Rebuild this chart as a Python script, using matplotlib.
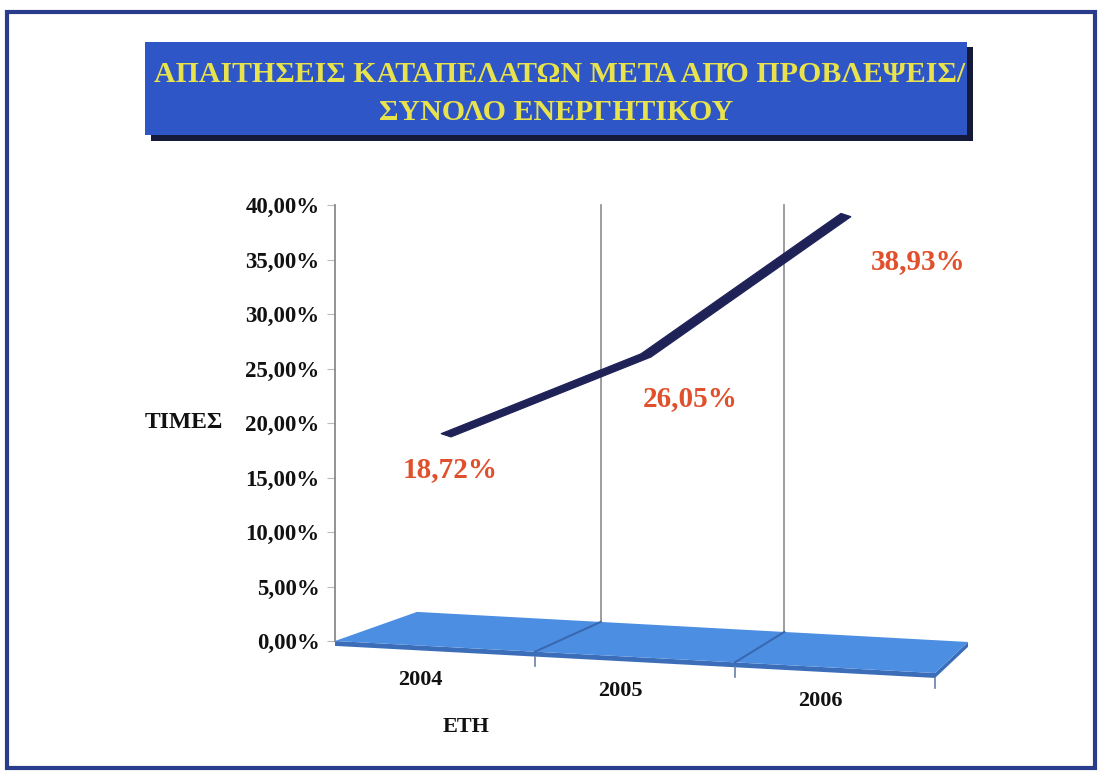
import numpy as np
import matplotlib
matplotlib.use("Agg")
import matplotlib.pyplot as plt
from matplotlib.patches import Polygon, Rectangle

# ---------------- data ----------------
years = ["2004", "2005", "2006"]
values = [18.72, 26.05, 38.93]
value_labels = ["18,72%", "26,05%", "38,93%"]
y_ticks = [0, 5, 10, 15, 20, 25, 30, 35, 40]
y_tick_labels = ["0,00%", "5,00%", "10,00%", "15,00%", "20,00%",
                 "25,00%", "30,00%", "35,00%", "40,00%"]
title_lines = ["ΑΠΑΙΤΗΣΕΙΣ ΚΑΤΑΠΕΛΑΤΩΝ ΜΕΤΑ ΑΠΌ ΠΡΟΒΛΕΨΕΙΣ/",
               "ΣΥΝΟΛΟ ΕΝΕΡΓΗΤΙΚΟΥ"]
y_label = "ΤΙΜΕΣ"
x_label = "ΕΤΗ"

# ---------------- layout / style ----------------
SERIF = ["Liberation Serif", "DejaVu Serif"]
W, H = 1103, 774
fig = plt.figure(figsize=(W / 100, H / 100), dpi=100)
fig.patch.set_facecolor("white")


def fx(px):
    return px / W


def fy(py):
    return 1 - py / H


# outer frame
fig.add_artist(Rectangle((fx(7), fy(768)), fx(1095) - fx(7), fy(12) - fy(768),
                         fill=False, edgecolor="#2A3D8C", lw=3.0,
                         transform=fig.transFigure, zorder=0))

# title box with shadow
fig.add_artist(Rectangle((fx(151), fy(141)), fx(973) - fx(151), fy(47) - fy(141),
                         facecolor="#15193A", edgecolor="none",
                         transform=fig.transFigure, zorder=1))
fig.add_artist(Rectangle((fx(145), fy(135)), fx(967) - fx(145), fy(42) - fy(135),
                         facecolor="#2E56C6", edgecolor="none",
                         transform=fig.transFigure, zorder=2))
fig.text(fx(560), fy(75), title_lines[0], ha="center", va="center",
         fontsize=21.5, fontweight="bold", color="#E8E24C", family=SERIF, zorder=3)
fig.text(fx(556), fy(112), title_lines[1], ha="center", va="center",
         fontsize=21.5, fontweight="bold", color="#E8E24C", family=SERIF, zorder=3)

# axes: y in percent, x in category units
PX_PER_PCT = (641 - 205) / 40.0
YMIN = -8
ax_bottom = 641 + (-YMIN) * PX_PER_PCT
ax = fig.add_axes([fx(335), fy(ax_bottom), 600 / W, (ax_bottom - 205) / H])
ax.set_xlim(-0.5, 2.5)
ax.set_ylim(YMIN, 40)
ax.patch.set_alpha(0)
for s in ["top", "right", "bottom"]:
    ax.spines[s].set_visible(False)
ax.spines["left"].set_bounds(0, 40)
ax.spines["left"].set_color("#8A8A8A")
ax.spines["left"].set_linewidth(1.3)
ax.set_xticks([])
ax.set_yticks(y_ticks)
ax.set_yticklabels(y_tick_labels, family=SERIF, fontweight="bold", fontsize=16.5)
ax.tick_params(axis="y", length=6, color="#BBBBBB", pad=5, labelcolor="#111111")

# floor geometry (oblique projection in data units)
SLOPE_FRONT = 0.98
DEPTH_L = (0.41, 2.67)
DEPTH_R = (0.165, 2.85)


def front(x):
    return (x, -SLOPE_FRONT * (x + 0.5))


def depth(x):
    t = (x + 0.5) / 3.0
    return ((1 - t) * DEPTH_L[0] + t * DEPTH_R[0], (1 - t) * DEPTH_L[1] + t * DEPTH_R[1])


def back(x):
    f, d = front(x), depth(x)
    return (f[0] + d[0], f[1] + d[1])


n = len(years)
x0, x1 = -0.5, n - 0.5
THICK = 0.45
# floor front face & side
fl, fr = front(x0), front(x1)
br = back(x1)
ax.add_patch(Polygon([fl, fr, (fr[0], fr[1] - THICK), (fl[0], fl[1] - THICK)],
                     closed=True, facecolor="#3B6DB8", edgecolor="none",
                     clip_on=False, zorder=2))
ax.add_patch(Polygon([fr, br, (br[0], br[1] - THICK), (fr[0], fr[1] - THICK)],
                     closed=True, facecolor="#3B6DB8", edgecolor="none",
                     clip_on=False, zorder=2))
# floor top
ax.add_patch(Polygon([front(x0), front(x1), back(x1), back(x0)], closed=True,
                     facecolor="#4C8FE2", edgecolor="none", clip_on=False, zorder=3))
# dividers on the floor, grid lines and ticks at category boundaries
for b in np.arange(0.5, n - 0.5, 1.0):
    f, bk = front(b), back(b)
    ax.plot([f[0], bk[0]], [f[1], bk[1]], color="#3A68B0", lw=1.5,
            clip_on=False, zorder=4)
    ax.plot([bk[0], bk[0]], [bk[1], 40], color="#8C8C8C", lw=1.2,
            clip_on=False, zorder=1)
for b in np.arange(0.5, n, 1.0):
    f = front(b)
    ax.plot([f[0], f[0]], [f[1] - THICK, f[1] - THICK - 0.9], color="#6A7FA8",
            lw=1.2, clip_on=False, zorder=4)

# category labels
for i, yr in enumerate(years):
    f = front(i)
    ax.text(i - 0.075, f[1] - 3.1, yr, ha="center", va="center", fontsize=16,
            fontweight="bold", family=SERIF, color="#111111", clip_on=False)

# ribbon line
xs = np.arange(n) + 0.08
vals = np.array(values)
DX, DY = -0.05, 0.3
pts = list(zip(xs, vals)) + list(zip(xs[::-1] + DX, vals[::-1] + DY))
ax.add_patch(Polygon(pts, closed=True, facecolor="#1F2257", edgecolor="#1F2257",
                     lw=0.8, clip_on=False, zorder=5))

# value labels
label_offsets = [(-1, -33), (39, -41), (67, -45)]
for x, v, lab, off in zip(xs, vals, value_labels, label_offsets):
    ax.annotate(lab, (x, v), xytext=off, textcoords="offset pixels",
                ha="center", va="center", fontsize=21, fontweight="bold",
                family=SERIF, color="#E0502C", zorder=6)

# axis titles
fig.text(fx(184), fy(422), y_label, ha="center", va="center", fontsize=17,
         fontweight="bold", family=SERIF, color="#111111")
fig.text(fx(466), fy(727), x_label, ha="center", va="center", fontsize=16,
         fontweight="bold", family=SERIF, color="#111111")

fig.savefig("out.png", dpi=100, facecolor="white")
